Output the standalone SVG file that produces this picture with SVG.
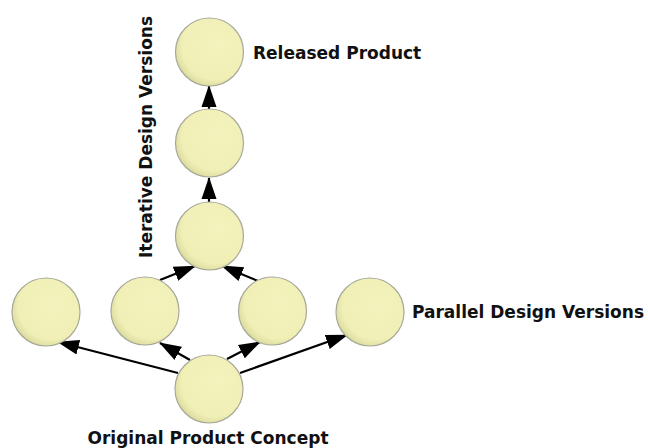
<svg xmlns="http://www.w3.org/2000/svg" width="648" height="448" viewBox="0 0 648 448">
<style>
.node circle{stroke:#a8a89a;stroke-width:1.2}
.lbl{font-family:"DejaVu Sans",Verdana,sans-serif;font-weight:bold;font-size:17px;fill:#111}
.edges line{stroke:#000;stroke-width:2.2}
</style>
<defs>
<radialGradient id="g" cx="0.58" cy="0.42" r="0.62" fx="0.62" fy="0.38">
<stop offset="0" stop-color="#f3f3bd"/>
<stop offset="0.8" stop-color="#efefb6"/>
<stop offset="0.93" stop-color="#e2e2a6"/>
<stop offset="1" stop-color="#d0d094"/>
</radialGradient>
<marker id="ah" markerUnits="userSpaceOnUse" markerWidth="22" markerHeight="18" viewBox="0 0 22 18" refX="21" refY="9" orient="auto">
<path d="M0,1.5 L22,9 L0,16.5 Z" fill="#000"/>
</marker>
</defs>
<g class="edges">
<line x1="209" y1="109" x2="209" y2="86" marker-end="url(#ah)"/>
<line x1="209" y1="202" x2="209" y2="178" marker-end="url(#ah)"/>
<line x1="160" y1="280" x2="195" y2="266" marker-end="url(#ah)"/>
<line x1="258" y1="281" x2="222" y2="266" marker-end="url(#ah)"/>
<line x1="178" y1="373" x2="58" y2="342" marker-end="url(#ah)"/>
<line x1="190" y1="360" x2="160" y2="343" marker-end="url(#ah)"/>
<line x1="227" y1="359" x2="260" y2="342" marker-end="url(#ah)"/>
<line x1="240" y1="373" x2="347" y2="335" marker-end="url(#ah)"/>
</g>
<g id="n-released" class="node"><circle cx="209.5" cy="52" r="34" fill="url(#g)"/></g>
<g id="n-iter2" class="node"><circle cx="209.5" cy="143" r="34" fill="url(#g)"/></g>
<g id="n-iter1" class="node"><circle cx="209.5" cy="236" r="34" fill="url(#g)"/></g>
<g id="n-par-left" class="node"><circle cx="145" cy="311" r="34" fill="url(#g)"/></g>
<g id="n-par-right" class="node"><circle cx="272.5" cy="311" r="34" fill="url(#g)"/></g>
<g id="n-par-farleft" class="node"><circle cx="46" cy="312" r="34" fill="url(#g)"/></g>
<g id="n-par-farright" class="node"><circle cx="370" cy="312" r="34" fill="url(#g)"/></g>
<g id="n-original" class="node"><circle cx="209" cy="389" r="34" fill="url(#g)"/></g>
<g id="labels">
<text class="lbl" x="253" y="59">Released Product</text>
<text class="lbl" x="412" y="318">Parallel Design Versions</text>
<text class="lbl" x="208" y="444" text-anchor="middle">Original Product Concept</text>
<text class="lbl" transform="translate(152,137) rotate(-90)" text-anchor="middle">Iterative Design Versions</text>
</g>
</svg>
